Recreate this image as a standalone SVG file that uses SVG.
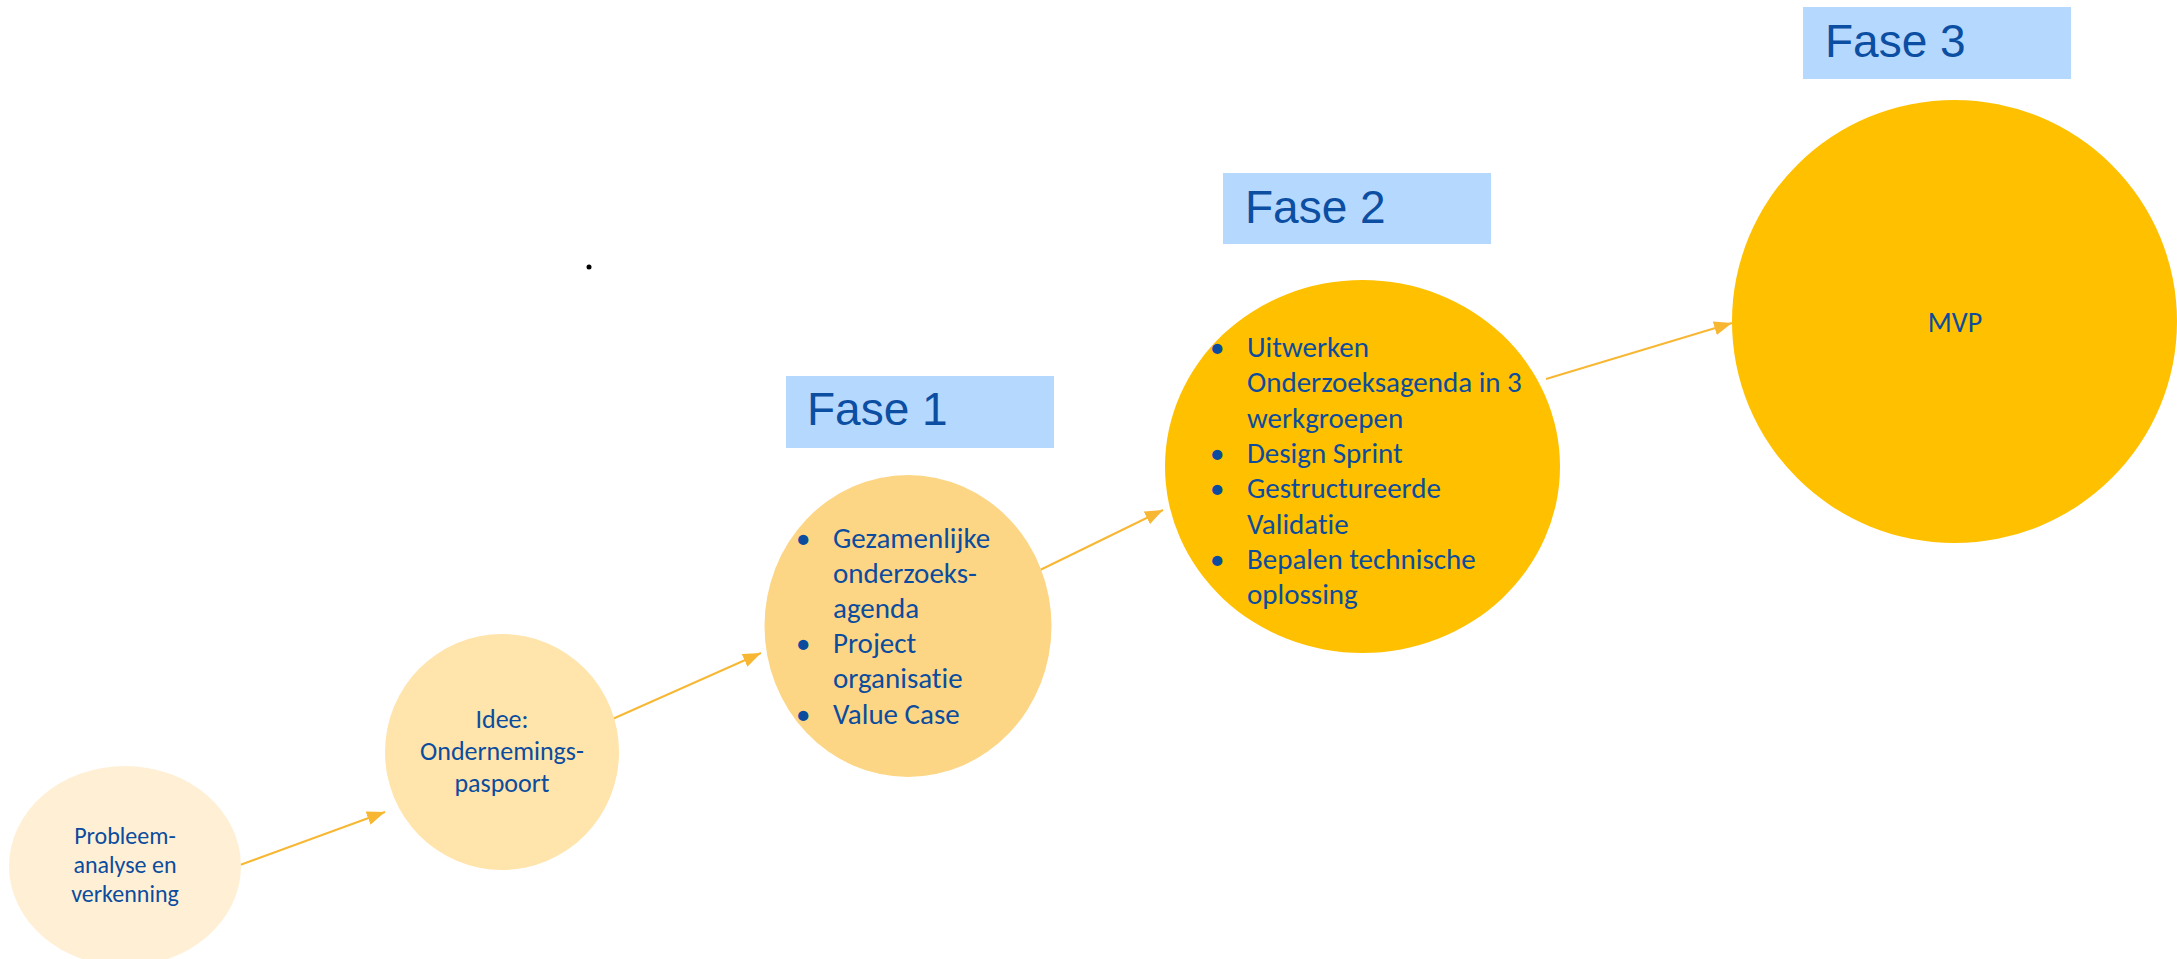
<svg xmlns="http://www.w3.org/2000/svg" width="2177" height="959" viewBox="0 0 2177 959">
<style>
.t{font-family:Carlito,Lato,"Liberation Sans",sans-serif;fill:#0B4C9E;font-variant-ligatures:none;font-feature-settings:"liga" 0}
.c{text-anchor:middle}
.fase{font-family:"Liberation Sans",Arial,sans-serif;font-size:46px;fill:#0B4EA2}
.box{fill:#B5D8FF}
.con{stroke:#F8B733;stroke-width:2;fill:none;marker-end:url(#ah)}
</style>
<defs>
<marker id="ah" markerUnits="userSpaceOnUse" markerWidth="18" markerHeight="14" refX="18" refY="7" orient="auto">
<path d="M0,0 L18,7 L0,14 z" fill="#F8B733"/>
</marker>
</defs>
<rect width="2177" height="959" fill="#fff"/>
<circle cx="589" cy="267" r="2.5" fill="#000"/>
<g id="connectors">
<line class="con" x1="240" y1="865" x2="385" y2="812"/>
<line class="con" x1="608" y1="721" x2="761" y2="653"/>
<line class="con" x1="1036" y1="572" x2="1163" y2="510"/>
<line class="con" x1="1546" y1="379" x2="1732" y2="323"/>
</g>
<g id="probleem">
<ellipse cx="125" cy="866" rx="116" ry="100" fill="#FFF0D5"/>
<text class="t c" font-size="24"><tspan x="125" y="844">Probleem-</tspan><tspan x="125" y="873">analyse en</tspan><tspan x="125" y="902">verkenning</tspan></text>
</g>
<g id="idee">
<ellipse cx="502" cy="752" rx="117" ry="118" fill="#FFE4AB"/>
<text class="t c" font-size="26"><tspan x="502" y="728">Idee:</tspan><tspan x="502" y="760">Ondernemings-</tspan><tspan x="502" y="792">paspoort</tspan></text>
</g>
<g id="fase1-label">
<rect class="box" x="786" y="376" width="268" height="72"/>
<text class="fase" x="807" y="425">Fase 1</text>
</g>
<g id="fase1">
<ellipse cx="908" cy="626" rx="143.5" ry="151" fill="#FCD685"/>
<text class="t" font-size="29">
<tspan x="796" y="548">•</tspan><tspan x="833" y="548">Gezamenlijke</tspan>
<tspan x="833" y="583">onderzoeks-</tspan>
<tspan x="833" y="618">agenda</tspan>
<tspan x="796" y="653">•</tspan><tspan x="833" y="653">Project</tspan>
<tspan x="833" y="688">organisatie</tspan>
<tspan x="796" y="724">•</tspan><tspan x="833" y="724">Value Case</tspan>
</text>
</g>
<g id="fase2-label">
<rect class="box" x="1223" y="173" width="268" height="71"/>
<text class="fase" x="1245" y="223">Fase 2</text>
</g>
<g id="fase2">
<ellipse cx="1362.5" cy="466.5" rx="197.5" ry="186.5" fill="#FFC000"/>
<text class="t" font-size="29">
<tspan x="1210" y="357">•</tspan><tspan x="1247" y="357">Uitwerken</tspan>
<tspan x="1247" y="392">Onderzoeksagenda in 3</tspan>
<tspan x="1247" y="428">werkgroepen</tspan>
<tspan x="1210" y="463">•</tspan><tspan x="1247" y="463">Design Sprint</tspan>
<tspan x="1210" y="498">•</tspan><tspan x="1247" y="498">Gestructureerde</tspan>
<tspan x="1247" y="534">Validatie</tspan>
<tspan x="1210" y="569">•</tspan><tspan x="1247" y="569">Bepalen technische</tspan>
<tspan x="1247" y="604">oplossing</tspan>
</text>
</g>
<g id="fase3-label">
<rect class="box" x="1803" y="7" width="268" height="72"/>
<text class="fase" x="1825" y="57">Fase 3</text>
</g>
<g id="mvp">
<ellipse cx="1954.5" cy="321.5" rx="222.5" ry="221.5" fill="#FFC000"/>
<text class="t c" font-size="28" x="1955" y="332">MVP</text>
</g>
</svg>
